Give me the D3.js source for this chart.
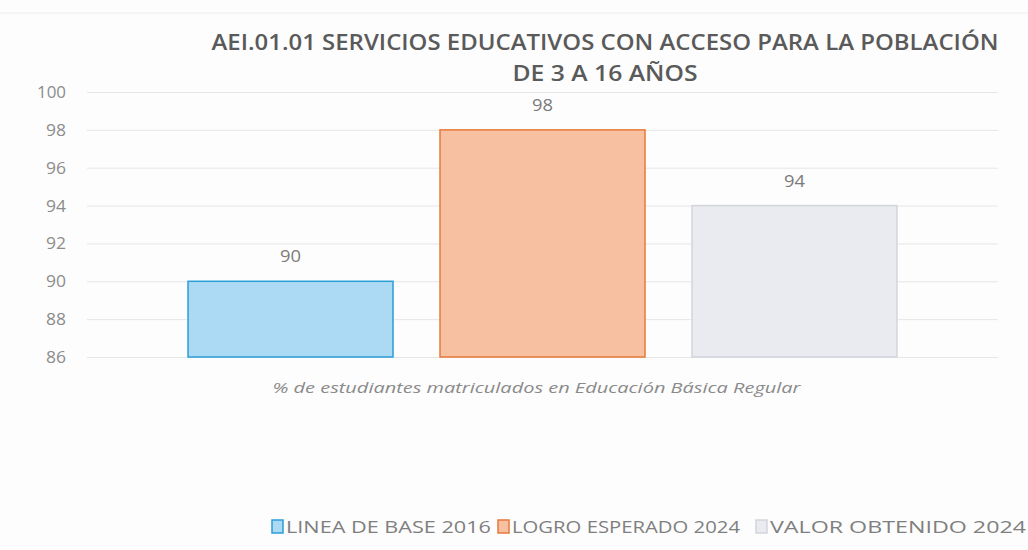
<!DOCTYPE html>
<html><head><meta charset="utf-8">
<script src="https://cdn.jsdelivr.net/npm/d3@7"></script>
<style>body{margin:0;background:#fff}svg{display:block}</style>
</head><body>
<svg id="c" width="1028" height="550"></svg>
<script>
const titleLines = ["AEI.01.01 SERVICIOS EDUCATIVOS CON ACCESO PARA LA POBLACIÓN", "DE 3 A 16 AÑOS"];
const category = ["% de estudiantes matriculados en Educación Básica Regular"];
const seriesNames = ["LINEA DE BASE 2016", "LOGRO ESPERADO 2024", "VALOR OBTENIDO 2024"];
const seriesValues = [90, 98, 94];
const yTicks = [86, 88, 90, 92, 94, 96, 98, 100];
const fills = ["#acd9f3", "#f6c0a1", "#e9ebf1"];
const strokes = ["#2a9ed6", "#e8793a", "#d3d5db"];

const svg = d3.select("#c");
const font = "'Open Sans', 'Liberation Sans', sans-serif";
const textCol = "#7f7f7f";
svg.append("rect").attr("x",0).attr("y",0).attr("width",1028).attr("height",550).attr("fill","#fdfdfd");
svg.append("line").attr("x1",0).attr("x2",1028).attr("y1",13).attr("y2",13).attr("stroke","#eeeeee");

const m = {left: 87, right: 998, top: 92, bottom: 357};
const y = d3.scaleLinear().domain([86, 100]).range([m.bottom, m.top]);
const x0 = d3.scaleBand().domain(category).range([m.left, m.right]).paddingInner(0).paddingOuter(0.1425);
const x1 = d3.scaleBand().domain(seriesNames).range([0, x0.bandwidth()]).paddingInner(0.1865);

// gridlines
const yAxis = d3.axisLeft(y).tickValues(yTicks).tickSize(-(m.right - m.left)).tickFormat(d3.format("d"));
const ga = svg.append("g").attr("transform", `translate(${m.left},0)`).call(yAxis);
ga.select(".domain").remove();
ga.selectAll(".tick line").attr("stroke", "#e6e6e6").attr("stroke-width", 1);
ga.selectAll(".tick text").attr("x", -21).attr("fill", "#8c8c8c").attr("font-family", font).attr("font-size", 17)
  .attr("textLength", 29).attr("lengthAdjust", "spacingAndGlyphs");
ga.selectAll(".tick text").filter(d => d < 100).attr("textLength", 20);

// title
svg.append("g").selectAll("text").data(titleLines).join("text")
  .attr("x", 605).attr("y", (d,i) => 50 + i*31)
  .attr("text-anchor", "middle").attr("font-family", font).attr("font-weight", 600)
  .attr("font-size", 22).attr("fill", "#5a5a5a")
  .attr("textLength", (d,i) => i === 0 ? 787 : 185).attr("lengthAdjust", "spacingAndGlyphs")
  .text(d => d);

// bars
const g = svg.append("g").attr("transform", `translate(${x0(category[0])},0)`);
g.selectAll("rect").data(seriesValues).join("rect")
  .attr("x", (d,i) => x1(seriesNames[i]))
  .attr("y", d => y(d))
  .attr("width", x1.bandwidth())
  .attr("height", d => y(86) - y(d))
  .attr("fill", (d,i) => fills[i])
  .attr("stroke", (d,i) => strokes[i]).attr("stroke-width", 1.5);
g.selectAll("text").data(seriesValues).join("text")
  .attr("x", (d,i) => x1(seriesNames[i]) + x1.bandwidth()/2)
  .attr("y", d => y(d) - 19)
  .attr("text-anchor", "middle").attr("font-family", font).attr("font-size", 17)
  .attr("fill", "#7a7a7a").attr("textLength", 21).attr("lengthAdjust", "spacingAndGlyphs").text(d => d);

// category label
svg.append("text").attr("x", x0(category[0]) + x0.bandwidth()/2 - 6).attr("y", 393)
  .attr("text-anchor", "middle").attr("font-family", font).attr("font-style", "italic")
  .attr("font-size", 15).attr("fill", "#8a8a8a")
  .attr("textLength", 528).attr("lengthAdjust", "spacingAndGlyphs").text(category[0]);

// legend
const legX = [272, 498, 756];
const legW = [205, 228, 256];
const lg = svg.append("g");
seriesNames.forEach((s, i) => {
  lg.append("rect").attr("x", legX[i]).attr("y", 520).attr("width", 11).attr("height", 13)
    .attr("fill", fills[i]).attr("stroke", strokes[i]).attr("stroke-width", 1.5);
  lg.append("text").attr("x", legX[i] + 14).attr("y", 533)
    .attr("font-family", font).attr("font-size", 17).attr("fill", textCol)
    .attr("textLength", legW[i]).attr("lengthAdjust", "spacingAndGlyphs").text(s);
});
</script>
</body></html>
